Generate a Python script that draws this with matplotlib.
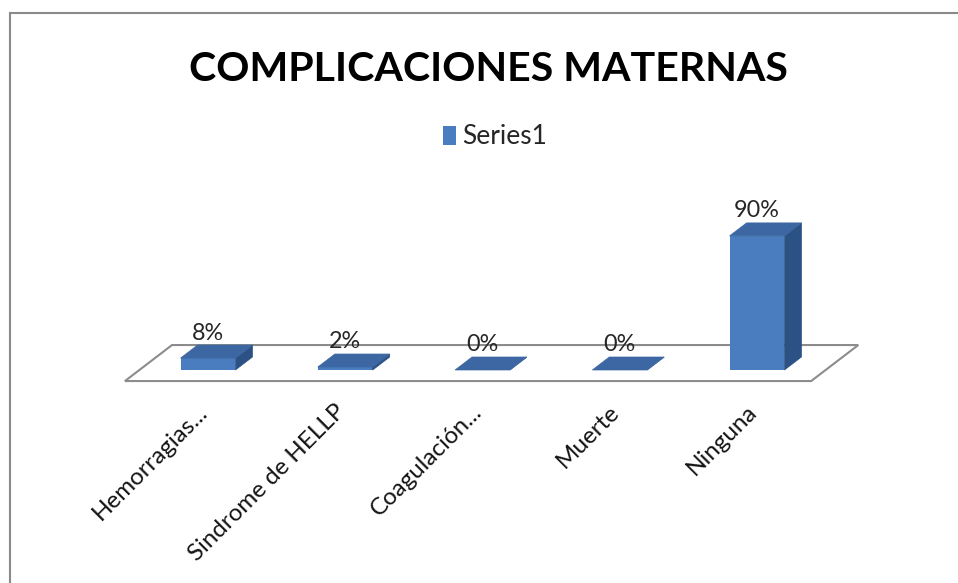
import matplotlib
matplotlib.use('Agg')
import matplotlib.pyplot as plt
from matplotlib.patches import Polygon, Rectangle

# ── Data ──────────────────────────────────────────────────────────────────────
categories  = ['Hemorragias...', 'Sindrome de HELLP', 'Coagulación...', 'Muerte', 'Ninguna']
values      = [8, 2, 0, 0, 90]
series_name = 'Series1'
title       = 'COMPLICACIONES MATERNAS'

# ── Style ─────────────────────────────────────────────────────────────────────
plt.rcParams['font.family'] = ['Lato', 'DejaVu Sans']
FRONT, TOP, SIDE = '#4A7DBF', '#3C67A2', '#2C5184'
W, H = 958, 583

fig = plt.figure(figsize=(W / 100, H / 100), dpi=100)
fig.patch.set_facecolor('white')
ax = fig.add_axes([0, 0, 1, 1])
ax.axis('off')

# map categories / percent to the picture area
x0_px, step_px = 208, 137.25
base_px, k = 370, 1.49
ax.set_xlim(-x0_px / step_px, (W - x0_px) / step_px)
ax.set_ylim((base_px - H) / k, base_px / k)

dx, dy = 17 / step_px, 13 / k     # 3-D depth vector
bw = 0.4
xs = list(range(len(categories)))
renderer = fig.canvas.get_renderer()


def fit(t, target):
    w = t.get_window_extent(renderer).width
    t.set_fontsize(t.get_fontsize() * target / w)
    return t.get_fontsize()


# ── Floor ─────────────────────────────────────────────────────────────────────
t0, t1 = -0.85, 1.92
xl, xr = xs[0] - 0.5, xs[-1] + 0.5
floor = Polygon([(xl + t0 * dx, t0 * dy), (xr + t0 * dx, t0 * dy),
                 (xr + t1 * dx, t1 * dy), (xl + t1 * dx, t1 * dy)],
                closed=True, fc='white', ec='#8c8c8c', lw=1.5, zorder=1)
ax.add_patch(floor)

# ── Bars (front + side + top) ─────────────────────────────────────────────────
bars = ax.bar(xs, values, width=bw, color=FRONT, lw=0, zorder=3, label=series_name)
for x, v in zip(xs, values):
    r = x + bw / 2
    l = x - bw / 2
    ax.add_patch(Polygon([(r, 0), (r + dx, dy), (r + dx, v + dy), (r, v)],
                         closed=True, fc=SIDE, ec=SIDE, lw=0.5, zorder=3))
    ax.add_patch(Polygon([(l, v), (r, v), (r + dx, v + dy), (l + dx, v + dy)],
                         closed=True, fc=TOP, ec=TOP, lw=0.5, zorder=4))

# ── Data labels ───────────────────────────────────────────────────────────────
lbls = []
for x, v in zip(xs, values):
    lbls.append(ax.annotate(f'{v}%', (x, v + dy), xytext=(0, 4), textcoords='offset points',
                            ha='center', va='baseline', fontsize=18, color='#262626', zorder=5))
fs = fit(lbls[-1], 46)
for t in lbls:
    t.set_fontsize(fs)

# ── Category labels ───────────────────────────────────────────────────────────
ylab = (base_px - 401) / k
ticks = []
for x, c in zip(xs, categories):
    ticks.append(ax.text(x - 0.08, ylab, c, ha='right', va='top', rotation=0,
                         rotation_mode='anchor', fontsize=16, color='#141414'))
fs = fit(ticks[1], 212)
for t in ticks:
    t.set_fontsize(fs)
    t.set_rotation(45)

# ── Title ─────────────────────────────────────────────────────────────────────
ttl = fig.text(488 / W, 1 - 81 / H, title, ha='center', va='baseline',
               fontsize=30, fontweight='bold', color='black',
               family=['Liberation Sans Narrow', 'Lato', 'DejaVu Sans'])
fit(ttl, 600)

# ── Legend ────────────────────────────────────────────────────────────────────
probe = fig.text(0, 0, series_name, fontsize=14)
lfs = fit(probe, 85)
probe.remove()
ax.legend(handles=[bars], labels=[series_name], loc='center',
          bbox_to_anchor=(495 / W, 1 - 137 / H), bbox_transform=fig.transFigure,
          frameon=False, fontsize=lfs, handlelength=0.5, handleheight=0.7,
          handletextpad=0.25, borderpad=0, labelcolor='#262626')

# ── Chart border ──────────────────────────────────────────────────────────────
fig.patches.append(Rectangle((10 / W, -0.1), 2, 1.1 - 13 / H, transform=fig.transFigure,
                             fill=False, ec='#8a8a8a', lw=1.5, zorder=0))

plt.savefig('out.png', dpi=100, facecolor='white')
